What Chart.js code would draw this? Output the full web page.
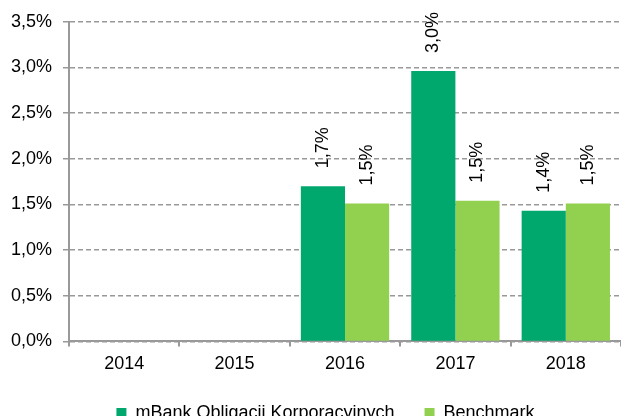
<!DOCTYPE html>
<html>
<head>
<meta charset="utf-8">
<script src="https://cdn.jsdelivr.net/npm/chart.js@4.4.1/dist/chart.umd.min.js"></script>
<style>
  html, body { margin: 0; padding: 0; overflow: hidden; background: #fff; }
  canvas { display: block; }
</style>
</head>
<body>
<canvas id="chart" width="621" height="440" style="width:621px;height:440px"></canvas>
<script>
const years = ['2014', '2015', '2016', '2017', '2018'];
const fundName = 'mBank Obligacji Korporacyjnych';
const benchName = 'Benchmark';
const fundValues = [null, null, 1.70, 2.96, 1.43];
const benchValues = [null, null, 1.51, 1.54, 1.51];

const FONT = '"Liberation Sans", Arial, sans-serif';
const FSIZE = 18;
const fmt = v => v.toFixed(1).replace('.', ',') + '%';

// rotated value labels above the bars
const barLabels = {
  id: 'barLabels',
  afterDatasetsDraw(chart) {
    const { ctx } = chart;
    ctx.save();
    ctx.font = FSIZE + 'px ' + FONT;
    ctx.fillStyle = '#000';
    ctx.textAlign = 'left';
    ctx.textBaseline = 'middle';
    chart.data.datasets.forEach((ds, i) => {
      chart.getDatasetMeta(i).data.forEach((bar, j) => {
        const v = ds.data[j];
        if (v == null) return;
        ctx.save();
        ctx.translate(bar.x, bar.y - 18);
        ctx.rotate(-Math.PI / 2);
        ctx.fillText(fmt(v), 0, 0);
        ctx.restore();
      });
    });
    ctx.restore();
  }
};

// nudge the legend a bit right and up, like the original
const legendNudge = {
  id: 'legendNudge',
  afterLayout(chart) {
    const lg = chart.legend;
    lg.left += 15; lg.right += 15;
    lg.top -= 8; lg.bottom -= 8;
  }
};

new Chart(document.getElementById('chart'), {
  type: 'bar',
  data: {
    labels: years,
    datasets: [
      { label: fundName, data: fundValues, backgroundColor: '#00A86E' },
      { label: benchName, data: benchValues, backgroundColor: '#92D050' }
    ]
  },
  options: {
    responsive: false,
    animation: false,
    devicePixelRatio: 1,
    layout: { padding: { left: 0, top: 4, right: 0, bottom: 0 } },
    datasets: { bar: { categoryPercentage: 0.8, barPercentage: 1.0 } },
    plugins: {
      tooltip: { enabled: false },
      legend: {
        position: 'bottom',
        labels: {
          color: '#000',
          font: { family: FONT, size: FSIZE },
          boxWidth: 10,
          boxHeight: 10,
          padding: 30
        }
      }
    },
    scales: {
      x: {
        grid: { drawOnChartArea: false, drawTicks: true, tickLength: 5, color: '#999', lineWidth: 2 },
        border: { color: '#999', width: 2 },
        ticks: { color: '#000', font: { family: FONT, size: FSIZE }, padding: 7 }
      },
      y: {
        min: 0,
        max: 3.5,
        afterFit: s => { s.width = 69; },
        ticks: {
          stepSize: 0.5,
          color: '#000',
          font: { family: FONT, size: FSIZE },
          padding: 11,
          callback: v => fmt(v)
        },
        grid: { color: '#999', lineWidth: 1.5, tickLength: 6, tickBorderDash: [] },
        border: { color: '#999', width: 2, dash: [5, 3] }
      }
    }
  },
  plugins: [barLabels, legendNudge]
});
</script>
</body>
</html>
